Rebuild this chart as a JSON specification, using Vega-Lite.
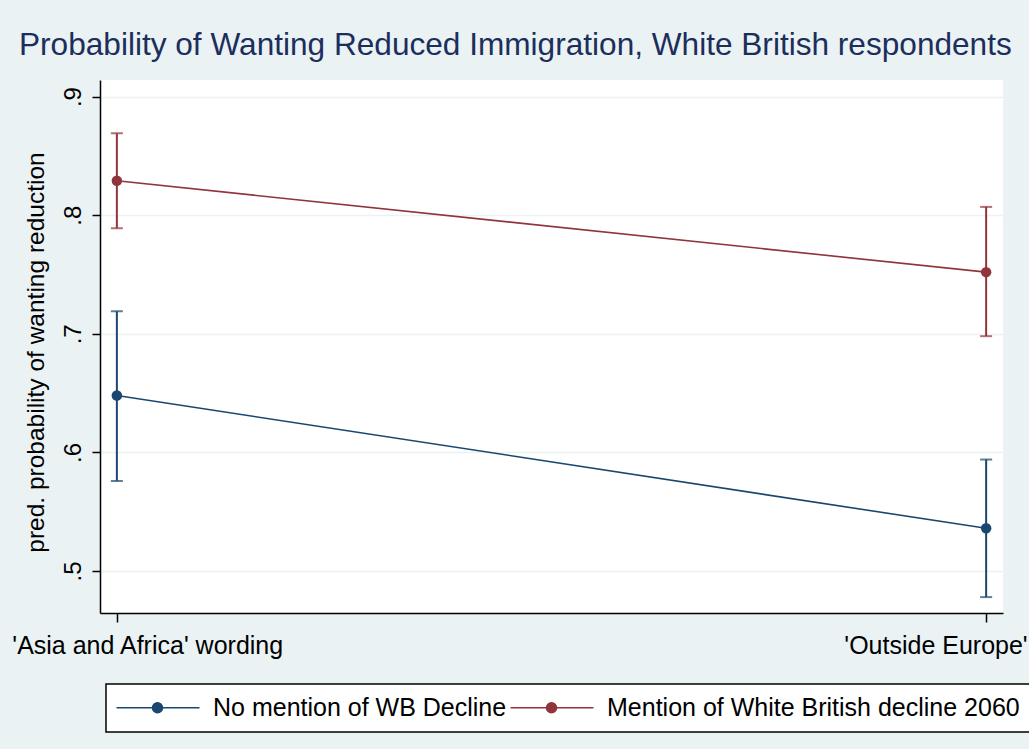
{
  "$schema": "https://vega.github.io/schema/vega-lite/v6.json",
  "width": 903,
  "height": 533,
  "autosize": {"type": "none"},
  "padding": {"left": 100, "top": 80, "right": 26, "bottom": 136},
  "background": "#eaf2f3",
  "config": {
    "view": {"fill": "white", "stroke": null},
    "font": "Liberation Sans"
  },
  "title": {
    "text": "Probability of Wanting Reduced Immigration, White British respondents",
    "anchor": "start",
    "frame": "group",
    "dx": -81,
    "dy": 30,
    "fontSize": 31.6,
    "fontWeight": "normal",
    "font": "Liberation Sans",
    "color": "#1c2e5c",
    "baseline": "alphabetic",
    "offset": 23
  },
  "data": {
    "values": [
      {"wording": "'Asia and Africa' wording", "group": "No mention of WB Decline", "p": 0.648, "lo": 0.576, "hi": 0.719},
      {"wording": "'Outside Europe'", "group": "No mention of WB Decline", "p": 0.536, "lo": 0.478, "hi": 0.594},
      {"wording": "'Asia and Africa' wording", "group": "Mention of White British decline 2060", "p": 0.829, "lo": 0.789, "hi": 0.869},
      {"wording": "'Outside Europe'", "group": "Mention of White British decline 2060", "p": 0.752, "lo": 0.698, "hi": 0.807}
    ]
  },
  "encoding": {
    "x": {
      "field": "wording",
      "type": "nominal",
      "scale": {"type": "point", "padding": 0.0194, "domain": ["'Asia and Africa' wording", "'Outside Europe'"]},
      "axis": {
        "title": null,
        "labelFontSize": 25,
        "labelColor": "black",
        "labelAngle": 0,
        "labelAlign": {"condition": {"test": "datum.value == \"'Asia and Africa' wording\"", "value": "left"}, "value": "right"},
        "labelOffset": {"condition": {"test": "datum.value == \"'Asia and Africa' wording\"", "value": -105}, "value": 41},
        "labelBaseline": "alphabetic",
        "labelPadding": 31,
        "labelLimit": 500,
        "labelOverlap": false,
        "labelBound": false,
        "labelFlush": false,
        "tickSize": 9,
        "tickColor": "black",
        "tickWidth": 1.5,
        "domainColor": "black",
        "domainWidth": 1.5,
        "grid": false
      }
    },
    "color": {
      "field": "group",
      "type": "nominal",
      "scale": {"domain": ["No mention of WB Decline", "Mention of White British decline 2060"], "range": ["#1a476f", "#90353b"]},
      "legend": {
        "orient": "none",
        "legendX": 6,
        "legendY": 604,
        "direction": "horizontal",
        "columns": 2,
        "title": null,
        "symbolType": "M-1.3,0L7.0,0M2.3,0A0.5,0.5,0,1,1,3.3,0A0.5,0.5,0,1,1,2.3,0Z",
        "symbolSize": 400,
        "symbolStrokeWidth": 1.6,
        "labelFontSize": 25,
        "labelColor": "black",
        "labelLimit": 600,
        "labelOffset": 71,
        "columnPadding": 0,
        "padding": 11,
        "strokeColor": "black",
        "fillColor": "white",
        "cornerRadius": 0,
        "encode": {
          "symbols": {"update": {"fill": {"scale": "color", "field": "value"}, "stroke": {"scale": "color", "field": "value"}, "opacity": {"value": 1}, "strokeWidth": {"value": 1.6}}},
          "legend": {"update": {"strokeWidth": {"value": 1.5}}}
        }
      }
    }
  },
  "layer": [
    {
      "mark": {"type": "rule", "strokeWidth": 2},
      "encoding": {
        "y": {
          "field": "lo", "type": "quantitative",
          "title": "pred. probability of wanting reduction",
          "scale": {"domain": [0.4646, 0.914], "nice": false, "zero": false},
          "axis": {
            "values": [0.5, 0.6, 0.7, 0.8, 0.9],
            "labelExpr": "'.' + round(datum.value*10)",
            "labelAngle": -90,
            "labelAlign": "center",
            "labelBaseline": "alphabetic",
            "labelPadding": 12,
            "labelFontSize": 24,
            "labelColor": "black",
            "tickSize": 8,
            "tickColor": "black",
            "tickWidth": 1.5,
            "domainColor": "black",
            "domainWidth": 1.5,
            "grid": true,
            "gridColor": "#eaf2f3",
            "gridWidth": 1.5,
            "titleFontSize": 24.5,
            "titleFontWeight": "normal",
            "titleColor": "black",
            "titleX": -57,
            "titleY": 272,
            "titleAngle": -90,
            "titleAlign": "center",
            "titleBaseline": "alphabetic"
          }
        },
        "y2": {"field": "hi"}
      }
    },
    {
      "mark": {"type": "tick", "thickness": 2, "size": 12, "orient": "horizontal"},
      "encoding": {
        "y": {"field": "lo", "type": "quantitative", "title": "pred. probability of wanting reduction", "scale": {"domain": [0.4646, 0.914], "nice": false, "zero": false}}
      }
    },
    {
      "mark": {"type": "tick", "thickness": 2, "size": 12, "orient": "horizontal"},
      "encoding": {
        "y": {"field": "hi", "type": "quantitative", "title": "pred. probability of wanting reduction", "scale": {"domain": [0.4646, 0.914], "nice": false, "zero": false}}
      }
    },
    {
      "mark": {"type": "line", "strokeWidth": 1.6},
      "encoding": {
        "y": {"field": "p", "type": "quantitative", "title": "pred. probability of wanting reduction", "scale": {"domain": [0.4646, 0.914], "nice": false, "zero": false}}
      }
    },
    {
      "mark": {"type": "point", "filled": true, "size": 110, "opacity": 1},
      "encoding": {
        "y": {"field": "p", "type": "quantitative", "title": "pred. probability of wanting reduction", "scale": {"domain": [0.4646, 0.914], "nice": false, "zero": false}}
      }
    }
  ]
}
